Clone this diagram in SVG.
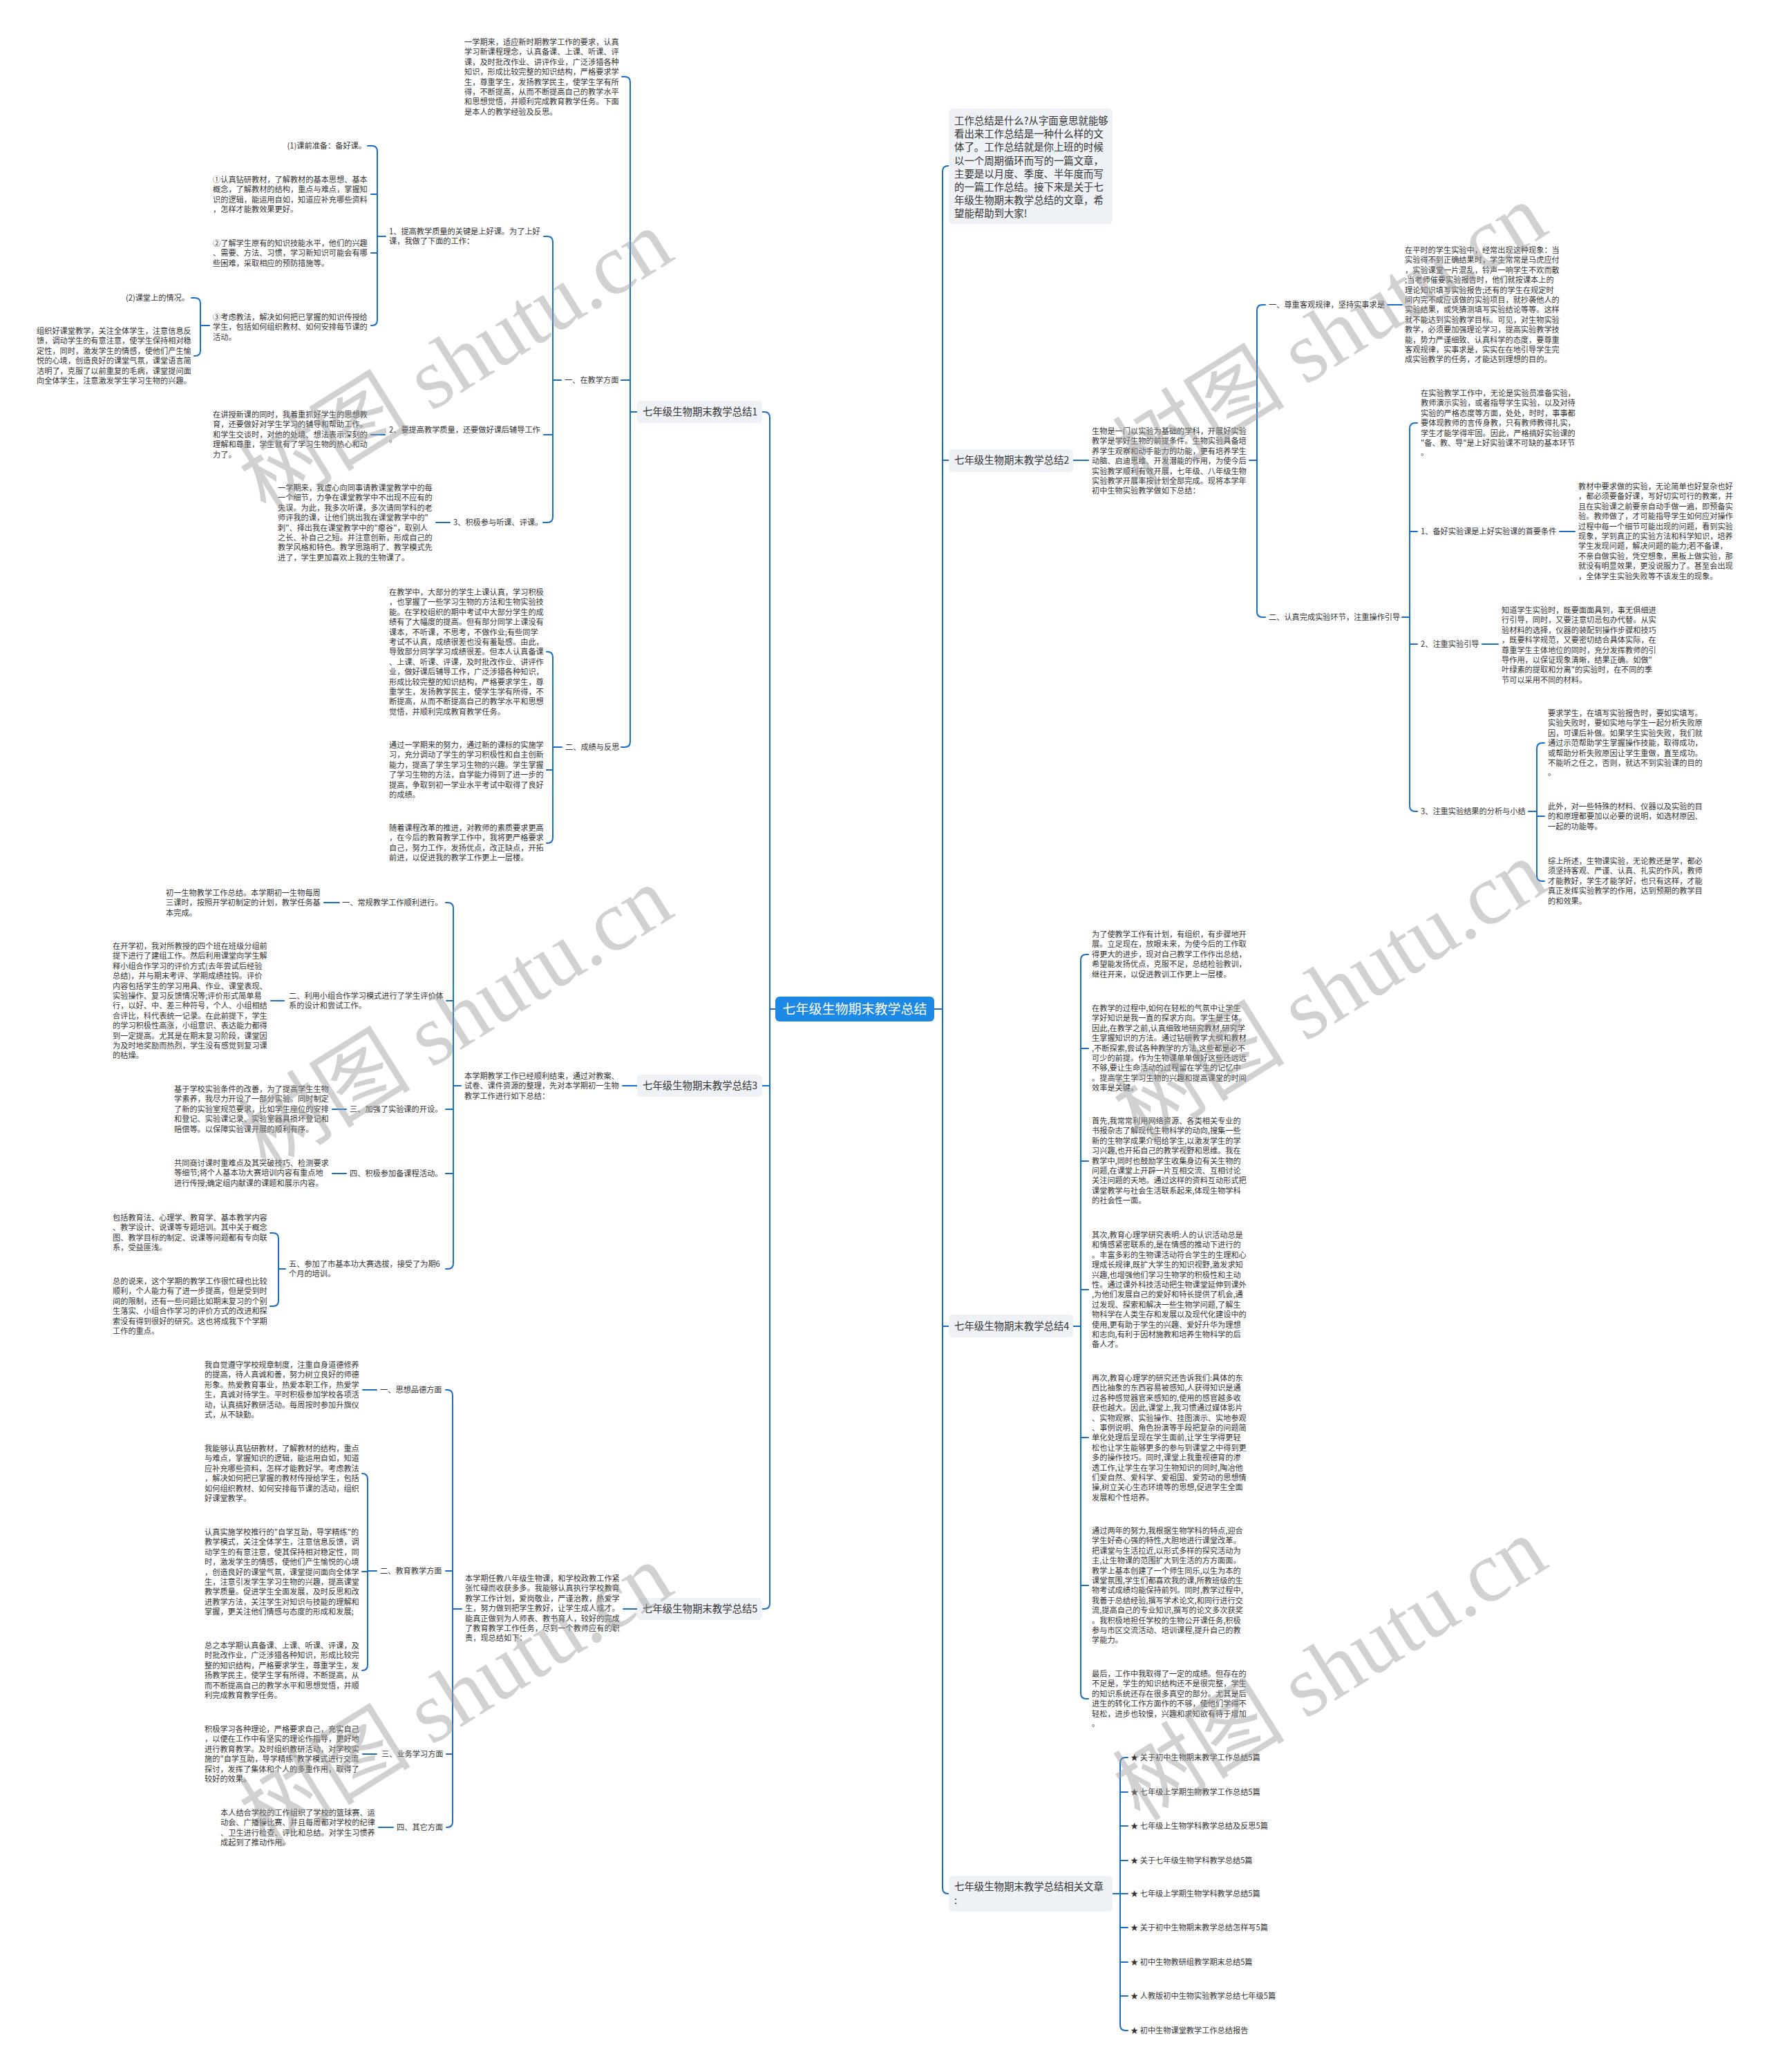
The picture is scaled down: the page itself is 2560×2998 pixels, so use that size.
<svg xmlns="http://www.w3.org/2000/svg" width="2560" height="2998" viewBox="0 0 2560 2998">
<style>
.t{font-family:"Noto Sans CJK SC","Noto Sans",sans-serif;font-size:11.2px;fill:#333}
.n{font-family:"Noto Sans CJK SC","Noto Sans",sans-serif;font-size:14.4px;fill:#333}
.box{fill:#eef1f6}
.c{fill:none;stroke:#1a6dc4;stroke-width:2;stroke-linecap:round;stroke-linejoin:round}
.wm{font-family:"Liberation Serif","Noto Sans CJK SC",serif;font-size:125px;fill:#9a9a9a;fill-opacity:0.45}
</style>
<rect width="2560" height="2998" fill="#ffffff"/>

<g id="connectors">
<path class="c" d="M1103,596 H1106 Q1114,596 1114,604 V2320 Q1114,2328 1106,2328 H1103 M1114,1571 H1103 M1114,1460 H1122"/>
<path class="c" d="M900,111 H904 Q912,111 912,119 V1073 Q912,1081 904,1081 H899 M912,550 H899 M912,596 H922"/>
<path class="c" d="M787,342 H792 Q800,342 800,350 V748 Q800,756 792,756 H786 M800,629 H787 M800,550 H812"/>
<path class="c" d="M532,211 H538 Q546,211 546,219 V463 Q546,471 538,471 H537 M546,281 H537 M546,366 H537 M546,342 H558"/>
<path class="c" d="M277,431 H282 Q290,431 290,439 V507 Q290,515 282,515 H281 M290,471 H303"/>
<path class="c" d="M557,629 H537 M651,756 H631"/>
<path class="c" d="M791,943 H792 Q800,943 800,951 V1212 Q800,1220 792,1220 H791 M800,1114 H791 M800,1081 H813"/>
<path class="c" d="M922,1571 H901"/>
<path class="c" d="M645,1306 H648 Q656,1306 656,1314 V1828 Q656,1836 648,1836 H645 M656,1448 H646 M656,1605 H645 M656,1698 H645 M656,1571 H667"/>
<path class="c" d="M491,1306 H469 M411,1448 H392 M501,1605 H481 M501,1698 H481"/>
<path class="c" d="M391,1784 H395 Q403,1784 403,1792 V1882 Q403,1890 395,1890 H391 M403,1836 H413"/>
<path class="c" d="M922,2328 H902"/>
<path class="c" d="M645,2011 H647 Q655,2011 655,2019 V2636 Q655,2644 647,2644 H646 M655,2273 H645 M655,2538 H646 M655,2328 H668"/>
<path class="c" d="M545,2011 H525 M545,2538 H525 M569,2644 H548"/>
<path class="c" d="M524,2132 Q532,2132 532,2140 V2409 Q532,2417 524,2417 M532,2274 H524 M532,2273 H545"/>
<path class="c" d="M1373,240 H1372 Q1364,240 1364,248 V2732 Q1364,2740 1372,2740 H1373 M1364,666 H1373 M1364,1919 H1373 M1352,1460 H1364"/>
<path class="c" d="M1553,666 H1575"/>
<path class="c" d="M1831,441 H1827 Q1819,441 1819,449 V885 Q1819,893 1827,893 H1831 M1808,666 H1819"/>
<path class="c" d="M2008,441 H2029"/>
<path class="c" d="M2051,612 H2048 Q2040,612 2040,620 V1166 Q2040,1174 2048,1174 H2051 M2040,769 H2051 M2040,932 H2051 M2029,893 H2040"/>
<path class="c" d="M2257,769 H2279 M2145,932 H2168"/>
<path class="c" d="M2235,1075 H2232 Q2224,1075 2224,1083 V1267 Q2224,1275 2232,1275 H2235 M2224,1181 H2235 M2212,1174 H2224"/>
<path class="c" d="M1575,1381 H1572 Q1564,1381 1564,1389 V2450 Q1564,2458 1572,2458 H1575 M1564,1517 H1575 M1564,1680 H1575 M1564,1866 H1575 M1564,2080 H1575 M1564,2294 H1575 M1553,1919 H1564"/>
<path class="c" d="M1632,2543 H1629 Q1621,2543 1621,2551 V2930 Q1621,2938 1629,2938 H1632 M1621,2593 H1632 M1621,2642 H1632 M1621,2692 H1632 M1621,2740 H1632 M1621,2789 H1632 M1621,2839 H1632 M1621,2888 H1632 M1610,2740 H1621"/>
</g>

<g id="n-center">
<rect x="1122" y="1442" width="230" height="36" rx="6" fill="#1e88e5"/>
<text x="1237" y="1466.5" text-anchor="middle" style="font-family:'Noto Sans CJK SC',sans-serif;font-size:19px;fill:#ffffff">七年级生物期末教学总结</text>
</g>

<g id="n-b1"><rect class="box" x="922" y="580" width="181" height="32" rx="5"/><text class="n" x="930" y="601">七年级生物期末教学总结1</text></g>
<g id="b1-intro"><text class="t" x="672" y="65"><tspan x="672">一学期来，适应新时期教学工作的要求，认真</tspan><tspan x="672" dy="14.4">学习新课程理念，认真备课、上课、听课、评</tspan><tspan x="672" dy="14.4">课，及时批改作业、讲评作业，广泛涉猎各种</tspan><tspan x="672" dy="14.4">知识，形成比较完整的知识结构，严格要求学</tspan><tspan x="672" dy="14.4">生，尊重学生，发扬教学民主，使学生学有所</tspan><tspan x="672" dy="14.4">得，不断提高，从而不断提高自己的教学水平</tspan><tspan x="672" dy="14.4">和思想觉悟，并顺利完成教育教学任务。下面</tspan><tspan x="672" dy="14.4">是本人的教学经验及反思。</tspan></text></g>
<g id="b1-1"><text class="t" x="817" y="554">一、在教学方面</text></g>
<g id="b1-1-1"><text class="t" x="563" y="338.5"><tspan x="563">1、提高教学质量的关键是上好课。为了上好</tspan><tspan x="563" dy="14.4">课，我做了下面的工作：</tspan></text></g>
<g id="b1-1-1-a"><text class="t" x="530" y="215" text-anchor="end">(1)课前准备：备好课。</text></g>
<g id="b1-1-1-b"><text class="t" x="308" y="264"><tspan x="308">①认真钻研教材，了解教材的基本思想、基本</tspan><tspan x="308" dy="14.4">概念，了解教材的结构，重点与难点，掌握知</tspan><tspan x="308" dy="14.4">识的逻辑，能运用自如，知道应补充哪些资料</tspan><tspan x="308" dy="14.4">，怎样才能教效果更好。</tspan></text></g>
<g id="b1-1-1-c"><text class="t" x="308" y="356"><tspan x="308">②了解学生原有的知识技能水平，他们的兴趣</tspan><tspan x="308" dy="14.4">、需要、方法、习惯，学习新知识可能会有哪</tspan><tspan x="308" dy="14.4">些困难，采取相应的预防措施等。</tspan></text></g>
<g id="b1-1-1-d"><text class="t" x="308" y="463"><tspan x="308">③考虑教法，解决如何把已掌握的知识传授给</tspan><tspan x="308" dy="14.4">学生，包括如何组织教材、如何安排每节课的</tspan><tspan x="308" dy="14.4">活动。</tspan></text></g>
<g id="b1-1-1-d1"><text class="t" x="274" y="435" text-anchor="end">(2)课堂上的情况。</text></g>
<g id="b1-1-1-d2"><text class="t" x="53" y="483"><tspan x="53">组织好课堂教学，关注全体学生，注意信息反</tspan><tspan x="53" dy="14.4">馈，调动学生的有意注意，使学生保持相对稳</tspan><tspan x="53" dy="14.4">定性，同时，激发学生的情感，使他们产生愉</tspan><tspan x="53" dy="14.4">悦的心境，创造良好的课堂气氛，课堂语言简</tspan><tspan x="53" dy="14.4">洁明了，克服了以前重复的毛病，课堂提问面</tspan><tspan x="53" dy="14.4">向全体学生，注意激发学生学习生物的兴趣。</tspan></text></g>
<g id="b1-1-2"><text class="t" x="563" y="625.6"><tspan x="563">2、要提高教学质量，还要做好课后辅导工作</tspan><tspan x="563" dy="14.4">。</tspan></text></g>
<g id="b1-1-2-a"><text class="t" x="308" y="604"><tspan x="308">在讲授新课的同时，我着重抓好学生的思想教</tspan><tspan x="308" dy="14.4">育，还要做好对学生学习的辅导和帮助工作。</tspan><tspan x="308" dy="14.4">和学生交谈时，对他的处境、想法表示深刻的</tspan><tspan x="308" dy="14.4">理解和尊重，学生就有了学习生物的热心和动</tspan><tspan x="308" dy="14.4">力了。</tspan></text></g>
<g id="b1-1-3"><text class="t" x="656" y="760">3、积极参与听课、评课。</text></g>
<g id="b1-1-3-a"><text class="t" x="402" y="710"><tspan x="402">一学期来，我虚心向同事请教课堂教学中的每</tspan><tspan x="402" dy="14.4">一个细节，力争在课堂教学中不出现不应有的</tspan><tspan x="402" dy="14.4">失误。为此，我多次听课，多次请同学科的老</tspan><tspan x="402" dy="14.4">师评我的课，让他们挑出我在课堂教学中的"</tspan><tspan x="402" dy="14.4">刺"、择出我在课堂教学中的"瘪谷"，取别人</tspan><tspan x="402" dy="14.4">之长、补自己之短。并注意创新，形成自己的</tspan><tspan x="402" dy="14.4">教学风格和特色。教学思路明了、教学模式先</tspan><tspan x="402" dy="14.4">进了，学生更加喜欢上我的生物课了。</tspan></text></g>
<g id="b1-2"><text class="t" x="818" y="1085">二、成绩与反思</text></g>
<g id="b1-2-a"><text class="t" x="563" y="861"><tspan x="563">在教学中，大部分的学生上课认真，学习积极</tspan><tspan x="563" dy="14.4">，也掌握了一些学习生物的方法和生物实验技</tspan><tspan x="563" dy="14.4">能。在学校组织的期中考试中大部分学生的成</tspan><tspan x="563" dy="14.4">绩有了大幅度的提高。但有部分同学上课没有</tspan><tspan x="563" dy="14.4">课本，不听课，不思考，不做作业;有些同学</tspan><tspan x="563" dy="14.4">考试不认真，成绩很差也没有羞耻感。由此，</tspan><tspan x="563" dy="14.4">导致部分同学学习成绩很差。但本人认真备课</tspan><tspan x="563" dy="14.4">、上课、听课、评课，及时批改作业、讲评作</tspan><tspan x="563" dy="14.4">业，做好课后辅导工作，广泛涉猎各种知识，</tspan><tspan x="563" dy="14.4">形成比较完整的知识结构，严格要求学生，尊</tspan><tspan x="563" dy="14.4">重学生，发扬教学民主，使学生学有所得，不</tspan><tspan x="563" dy="14.4">断提高，从而不断提高自己的教学水平和思想</tspan><tspan x="563" dy="14.4">觉悟，并顺利完成教育教学任务。</tspan></text></g>
<g id="b1-2-b"><text class="t" x="563" y="1082"><tspan x="563">通过一学期来的努力，通过新的课标的实施学</tspan><tspan x="563" dy="14.4">习，充分调动了学生的学习积极性和自主创新</tspan><tspan x="563" dy="14.4">能力，提高了学生学习生物的兴趣。学生掌握</tspan><tspan x="563" dy="14.4">了学习生物的方法，自学能力得到了进一步的</tspan><tspan x="563" dy="14.4">提高，争取到初一学业水平考试中取得了良好</tspan><tspan x="563" dy="14.4">的成绩。</tspan></text></g>
<g id="b1-2-c"><text class="t" x="563" y="1202"><tspan x="563">随着课程改革的推进，对教师的素质要求更高</tspan><tspan x="563" dy="14.4">，在今后的教育教学工作中，我将更严格要求</tspan><tspan x="563" dy="14.4">自己，努力工作，发扬优点，改正缺点，开拓</tspan><tspan x="563" dy="14.4">前进，以促进我的教学工作更上一层楼。</tspan></text></g>

<g id="n-b3"><rect class="box" x="922" y="1555" width="181" height="32" rx="5"/><text class="n" x="930" y="1576">七年级生物期末教学总结3</text></g>
<g id="b3-intro"><text class="t" x="672" y="1561"><tspan x="672">本学期教学工作已经顺利结束，通过对教案、</tspan><tspan x="672" dy="14.4">试卷、课件资源的整理，先对本学期初一生物</tspan><tspan x="672" dy="14.4">教学工作进行如下总结：</tspan></text></g>
<g id="b3-1"><text class="t" x="495" y="1310">一、常规教学工作顺利进行。</text></g>
<g id="b3-1-a"><text class="t" x="240" y="1296"><tspan x="240">初一生物教学工作总结。本学期初一生物每周</tspan><tspan x="240" dy="14.4">三课时，按照开学初制定的计划，教学任务基</tspan><tspan x="240" dy="14.4">本完成。</tspan></text></g>
<g id="b3-2"><text class="t" x="418" y="1445"><tspan x="418">二、利用小组合作学习模式进行了学生评价体</tspan><tspan x="418" dy="14.4">系的设计和尝试工作。</tspan></text></g>
<g id="b3-2-a"><text class="t" x="163" y="1373"><tspan x="163">在开学初，我对所教授的四个班在班级分组前</tspan><tspan x="163" dy="14.4">提下进行了建组工作。然后利用课堂向学生解</tspan><tspan x="163" dy="14.4">释小组合作学习的评价方式(去年尝试后经验</tspan><tspan x="163" dy="14.4">总结)，并与期末考评、学期成绩挂钩。评价</tspan><tspan x="163" dy="14.4">内容包括学生的学习用具、作业、课堂表现、</tspan><tspan x="163" dy="14.4">实验操作、复习反馈情况等;评价形式简单易</tspan><tspan x="163" dy="14.4">行，以好、中、差三种符号，个人、小组相结</tspan><tspan x="163" dy="14.4">合评比，科代表统一记录。在此前提下，学生</tspan><tspan x="163" dy="14.4">的学习积极性高涨，小组意识、表达能力都得</tspan><tspan x="163" dy="14.4">到一定提高。尤其是在期末复习阶段，课堂因</tspan><tspan x="163" dy="14.4">为及时地奖励而热烈，学生没有感觉到复习课</tspan><tspan x="163" dy="14.4">的枯燥。</tspan></text></g>
<g id="b3-3"><text class="t" x="506" y="1609">三、加强了实验课的开设。</text></g>
<g id="b3-3-a"><text class="t" x="252" y="1580"><tspan x="252">基于学校实验条件的改善，为了提高学生生物</tspan><tspan x="252" dy="14.4">学素养，我尽力开设了一部分实验。同时制定</tspan><tspan x="252" dy="14.4">了新的实验室规范要求，比如学生座位的安排</tspan><tspan x="252" dy="14.4">和登记、实验课记录、实验室器具损坏登记和</tspan><tspan x="252" dy="14.4">赔偿等。以保障实验课开展的顺利有序。</tspan></text></g>
<g id="b3-4"><text class="t" x="506" y="1702">四、积极参加备课程活动。</text></g>
<g id="b3-4-a"><text class="t" x="252" y="1687"><tspan x="252">共同商讨课时重难点及其突破技巧、检测要求</tspan><tspan x="252" dy="14.4">等细节;将个人基本功大赛培训内容有重点地</tspan><tspan x="252" dy="14.4">进行传授;确定组内献课的课题和展示内容。</tspan></text></g>
<g id="b3-5"><text class="t" x="418" y="1833"><tspan x="418">五、参加了市基本功大赛选拔，接受了为期6</tspan><tspan x="418" dy="14.4">个月的培训。</tspan></text></g>
<g id="b3-5-a"><text class="t" x="163" y="1766"><tspan x="163">包括教育法、心理学、教育学、基本教学内容</tspan><tspan x="163" dy="14.4">、教学设计、说课等专题培训。其中关于概念</tspan><tspan x="163" dy="14.4">图、教学目标的制定、说课等问题都有专向联</tspan><tspan x="163" dy="14.4">系，受益匪浅。</tspan></text></g>
<g id="b3-5-b"><text class="t" x="163" y="1858"><tspan x="163">总的说来，这个学期的教学工作很忙碌也比较</tspan><tspan x="163" dy="14.4">顺利，个人能力有了进一步提高，但是受到时</tspan><tspan x="163" dy="14.4">间的限制，还有一些问题比如期末复习的个别</tspan><tspan x="163" dy="14.4">生落实、小组合作学习的评价方式的改进和探</tspan><tspan x="163" dy="14.4">索没有得到很好的研究。这也将成我下个学期</tspan><tspan x="163" dy="14.4">工作的重点。</tspan></text></g>

<g id="n-b5"><rect class="box" x="922" y="2312" width="181" height="32" rx="5"/><text class="n" x="930" y="2333">七年级生物期末教学总结5</text></g>
<g id="b5-intro"><text class="t" x="673" y="2288"><tspan x="673">本学期任教八年级生物课，和学校政教工作紧</tspan><tspan x="673" dy="14.4">张忙碌而收获多多。我能够认真执行学校教育</tspan><tspan x="673" dy="14.4">教学工作计划，爱岗敬业，严谨治教，热爱学</tspan><tspan x="673" dy="14.4">生，努力做到把学生教好，让学生成人成才。</tspan><tspan x="673" dy="14.4">能真正做到为人师表、教书育人，较好的完成</tspan><tspan x="673" dy="14.4">了教育教学工作任务，尽到一个教师应有的职</tspan><tspan x="673" dy="14.4">责，现总结如下：</tspan></text></g>
<g id="b5-1"><text class="t" x="550" y="2015">一、思想品德方面</text></g>
<g id="b5-1-a"><text class="t" x="296" y="1979"><tspan x="296">我自觉遵守学校规章制度，注重自身道德修养</tspan><tspan x="296" dy="14.4">的提高，待人真诚和善，努力树立良好的师德</tspan><tspan x="296" dy="14.4">形象。热爱教育事业，热爱本职工作，热爱学</tspan><tspan x="296" dy="14.4">生，真诚对待学生。平时积极参加学校各项活</tspan><tspan x="296" dy="14.4">动，认真搞好教研活动。每周按时参加升旗仪</tspan><tspan x="296" dy="14.4">式，从不缺勤。</tspan></text></g>
<g id="b5-2"><text class="t" x="550" y="2277">二、教育教学方面</text></g>
<g id="b5-2-a"><text class="t" x="296" y="2100"><tspan x="296">我能够认真钻研教材，了解教材的结构，重点</tspan><tspan x="296" dy="14.4">与难点，掌握知识的逻辑，能运用自如，知道</tspan><tspan x="296" dy="14.4">应补充哪些资料，怎样才能教好学。考虑教法</tspan><tspan x="296" dy="14.4">，解决如何把已掌握的教材传授给学生，包括</tspan><tspan x="296" dy="14.4">如何组织教材、如何安排每节课的活动，组织</tspan><tspan x="296" dy="14.4">好课堂教学。</tspan></text></g>
<g id="b5-2-b"><text class="t" x="296" y="2221"><tspan x="296">认真实施学校推行的"自学互助，导学精练"的</tspan><tspan x="296" dy="14.4">教学模式，关注全体学生，注意信息反馈，调</tspan><tspan x="296" dy="14.4">动学生的有意注意，使其保持相对稳定性，同</tspan><tspan x="296" dy="14.4">时，激发学生的情感，使他们产生愉悦的心境</tspan><tspan x="296" dy="14.4">，创造良好的课堂气氛，课堂提问面向全体学</tspan><tspan x="296" dy="14.4">生，注意引发学生学习生物的兴趣，提高课堂</tspan><tspan x="296" dy="14.4">教学质量。促进学生全面发展，及时反思和改</tspan><tspan x="296" dy="14.4">进教学方法，关注学生对知识与技能的理解和</tspan><tspan x="296" dy="14.4">掌握，更关注他们情感与态度的形成和发展;</tspan></text></g>
<g id="b5-2-c"><text class="t" x="296" y="2385"><tspan x="296">总之本学期认真备课、上课、听课、评课，及</tspan><tspan x="296" dy="14.4">时批改作业，广泛涉猎各种知识，形成比较完</tspan><tspan x="296" dy="14.4">整的知识结构，严格要求学生，尊重学生，发</tspan><tspan x="296" dy="14.4">扬教学民主，使学生学有所得，不断提高，从</tspan><tspan x="296" dy="14.4">而不断提高自己的教学水平和思想觉悟，并顺</tspan><tspan x="296" dy="14.4">利完成教育教学任务。</tspan></text></g>
<g id="b5-3"><text class="t" x="552" y="2542">三、业务学习方面</text></g>
<g id="b5-3-a"><text class="t" x="296" y="2506"><tspan x="296">积极学习各种理论，严格要求自己，充实自己</tspan><tspan x="296" dy="14.4">，以便在工作中有坚实的理论作指导，更好地</tspan><tspan x="296" dy="14.4">进行教育教学。及时组织教研活动，对学校实</tspan><tspan x="296" dy="14.4">施的"自学互助，导学精练"教学模式进行交流</tspan><tspan x="296" dy="14.4">探讨，发挥了集体和个人的多重作用，取得了</tspan><tspan x="296" dy="14.4">较好的效果。</tspan></text></g>
<g id="b5-4"><text class="t" x="574" y="2648">四、其它方面</text></g>
<g id="b5-4-a"><text class="t" x="319" y="2627"><tspan x="319">本人结合学校的工作组织了学校的篮球赛、运</tspan><tspan x="319" dy="14.4">动会、广播操比赛、并且每周都对学校的纪律</tspan><tspan x="319" dy="14.4">、卫生进行检查、评比和总结。对学生习惯养</tspan><tspan x="319" dy="14.4">成起到了推动作用。</tspan></text></g>

<g id="n-intro"><rect class="box" x="1373" y="157" width="237" height="167" rx="6"/><text class="n" x="1381" y="180"><tspan x="1381">工作总结是什么?从字面意思就能够</tspan><tspan x="1381" dy="19.2">看出来工作总结是一种什么样的文</tspan><tspan x="1381" dy="19.2">体了。工作总结就是你上班的时候</tspan><tspan x="1381" dy="19.2">以一个周期循环而写的一篇文章，</tspan><tspan x="1381" dy="19.2">主要是以月度、季度、半年度而写</tspan><tspan x="1381" dy="19.2">的一篇工作总结。接下来是关于七</tspan><tspan x="1381" dy="19.2">年级生物期末教学总结的文章，希</tspan><tspan x="1381" dy="19.2">望能帮助到大家!</tspan></text></g>

<g id="n-b2"><rect class="box" x="1373" y="650" width="180" height="33" rx="5"/><text class="n" x="1381" y="671">七年级生物期末教学总结2</text></g>
<g id="b2-intro"><text class="t" x="1580" y="628"><tspan x="1580">生物是一门以实验为基础的学科，开展好实验</tspan><tspan x="1580" dy="14.4">教学是学好生物的前提条件。生物实验具备培</tspan><tspan x="1580" dy="14.4">养学生观察和动手能力的功能，更有培养学生</tspan><tspan x="1580" dy="14.4">动脑、启迪思维、开发潜能的作用，为使今后</tspan><tspan x="1580" dy="14.4">实验教学顺利有效开展，七年级、八年级生物</tspan><tspan x="1580" dy="14.4">实验教学开展率按计划全部完成。现将本学年</tspan><tspan x="1580" dy="14.4">初中生物实验教学做如下总结：</tspan></text></g>
<g id="b2-1"><text class="t" x="1836" y="445">一、尊重客观规律，坚持实事求是</text></g>
<g id="b2-1-a"><text class="t" x="2033" y="366"><tspan x="2033">在平时的学生实验中，经常出现这种现象：当</tspan><tspan x="2033" dy="14.4">实验得不到正确结果时，学生常常是马虎应付</tspan><tspan x="2033" dy="14.4">，实验课堂一片混乱，铃声一响学生不欢而散</tspan><tspan x="2033" dy="14.4">;当老师催要实验报告时，他们就按课本上的</tspan><tspan x="2033" dy="14.4">理论知识填写实验报告;还有的学生在规定时</tspan><tspan x="2033" dy="14.4">间内完不成应该做的实验项目，就抄袭他人的</tspan><tspan x="2033" dy="14.4">实验结果，或凭猜测填写实验结论等等。这样</tspan><tspan x="2033" dy="14.4">就不能达到实验教学目标。可见，对生物实验</tspan><tspan x="2033" dy="14.4">教学，必须要加强理论学习，提高实验教学技</tspan><tspan x="2033" dy="14.4">能，势力严谨细致、认真科学的态度，要尊重</tspan><tspan x="2033" dy="14.4">客观规律，实事求是，实实在在地引导学生完</tspan><tspan x="2033" dy="14.4">成实验教学的任务，才能达到理想的目的。</tspan></text></g>
<g id="b2-2"><text class="t" x="1836" y="897">二、认真完成实验环节，注重操作引导</text></g>
<g id="b2-2-a"><text class="t" x="2056" y="573"><tspan x="2056">在实验教学工作中，无论是实验员准备实验，</tspan><tspan x="2056" dy="14.4">教师演示实验，或者指导学生实验，以及对待</tspan><tspan x="2056" dy="14.4">实验的严格态度等方面，处处，时时，事事都</tspan><tspan x="2056" dy="14.4">要体现教师的言传身教，只有教师教得扎实，</tspan><tspan x="2056" dy="14.4">学生才能学得牢固。因此，严格搞好实验课的</tspan><tspan x="2056" dy="14.4">"备、教、导"是上好实验课不可缺的基本环节</tspan><tspan x="2056" dy="14.4">。</tspan></text></g>
<g id="b2-2-1"><text class="t" x="2056" y="773">1、备好实验课是上好实验课的首要条件</text></g>
<g id="b2-2-1-a"><text class="t" x="2284" y="708"><tspan x="2284">教材中要求做的实验，无论简单也好复杂也好</tspan><tspan x="2284" dy="14.4">，都必须要备好课，写好切实可行的教案，并</tspan><tspan x="2284" dy="14.4">且在实验课之前要亲自动手做一遍，即预备实</tspan><tspan x="2284" dy="14.4">验。教师做了，才可能指导学生如何应对操作</tspan><tspan x="2284" dy="14.4">过程中每一个细节可能出现的问题，看到实验</tspan><tspan x="2284" dy="14.4">现象，学到真正的实验方法和科学知识，培养</tspan><tspan x="2284" dy="14.4">学生发现问题，解决问题的能力;若不备课，</tspan><tspan x="2284" dy="14.4">不亲自做实验，凭空想象，黑板上做实验，那</tspan><tspan x="2284" dy="14.4">就没有明显效果，更没说服力了。甚至会出现</tspan><tspan x="2284" dy="14.4">，全体学生实验失败等不该发生的现象。</tspan></text></g>
<g id="b2-2-2"><text class="t" x="2056" y="936">2、注重实验引导</text></g>
<g id="b2-2-2-a"><text class="t" x="2173" y="887"><tspan x="2173">知道学生实验时，既要面面具到，事无俱细进</tspan><tspan x="2173" dy="14.4">行引导，同时，又要注意切忌包办代替。从实</tspan><tspan x="2173" dy="14.4">验材料的选择，仪器的装配到操作步骤和技巧</tspan><tspan x="2173" dy="14.4">，既要科学规范，又要密切结合具体实际，在</tspan><tspan x="2173" dy="14.4">尊重学生主体地位的同时，充分发挥教师的引</tspan><tspan x="2173" dy="14.4">导作用，以保证现象清晰，结果正确。如做"</tspan><tspan x="2173" dy="14.4">叶绿素的提取和分离"的实验时，在不同的季</tspan><tspan x="2173" dy="14.4">节可以采用不同的材料。</tspan></text></g>
<g id="b2-2-3"><text class="t" x="2056" y="1178">3、注重实验结果的分析与小结</text></g>
<g id="b2-2-3-a"><text class="t" x="2240" y="1036"><tspan x="2240">要求学生，在填写实验报告时，要如实填写。</tspan><tspan x="2240" dy="14.4">实验失败时，要如实地与学生一起分析失败原</tspan><tspan x="2240" dy="14.4">因，可课后补做。如果学生实验失败，我们就</tspan><tspan x="2240" dy="14.4">通过示范帮助学生掌握操作技能，取得成功，</tspan><tspan x="2240" dy="14.4">或帮助分析失败原因让学生重做，直至成功。</tspan><tspan x="2240" dy="14.4">不能听之任之，否则，就达不到实验课的目的</tspan><tspan x="2240" dy="14.4">。</tspan></text></g>
<g id="b2-2-3-b"><text class="t" x="2240" y="1171"><tspan x="2240">此外，对一些特殊的材料、仪器以及实验的目</tspan><tspan x="2240" dy="14.4">的和原理都要加以必要的说明，如选材原因、</tspan><tspan x="2240" dy="14.4">一起的功能等。</tspan></text></g>
<g id="b2-2-3-c"><text class="t" x="2240" y="1250"><tspan x="2240">综上所述，生物课实验，无论教还是学，都必</tspan><tspan x="2240" dy="14.4">须坚持客观、严谨、认真、扎实的作风，教师</tspan><tspan x="2240" dy="14.4">才能教好，学生才能学好，也只有这样，才能</tspan><tspan x="2240" dy="14.4">真正发挥实验教学的作用，达到预期的教学目</tspan><tspan x="2240" dy="14.4">的和效果。</tspan></text></g>

<g id="n-b4"><rect class="box" x="1373" y="1902" width="180" height="33" rx="5"/><text class="n" x="1381" y="1924">七年级生物期末教学总结4</text></g>
<g id="b4-a"><text class="t" x="1580" y="1356"><tspan x="1580">为了使教学工作有计划，有组织，有步骤地开</tspan><tspan x="1580" dy="14.4">展。立足现在，放眼未来，为使今后的工作取</tspan><tspan x="1580" dy="14.4">得更大的进步，现对自己教学工作作出总结，</tspan><tspan x="1580" dy="14.4">希望能发扬优点，克服不足，总结检验教训，</tspan><tspan x="1580" dy="14.4">继往开来，以促进教训工作更上一层楼。</tspan></text></g>
<g id="b4-b"><text class="t" x="1580" y="1463"><tspan x="1580">在教学的过程中,如何在轻松的气氛中让学生</tspan><tspan x="1580" dy="14.4">学好知识是我一直的探求方向。学生是主体。</tspan><tspan x="1580" dy="14.4">因此,在教学之前,认真细致地研究教材,研究学</tspan><tspan x="1580" dy="14.4">生掌握知识的方法。通过钻研教学大纲和教材</tspan><tspan x="1580" dy="14.4">,不断探索,尝试各种教学的方法,这些都是必不</tspan><tspan x="1580" dy="14.4">可少的前提。作为生物课单单做好这些还远远</tspan><tspan x="1580" dy="14.4">不够,要让生命活动的过程留在学生的记忆中</tspan><tspan x="1580" dy="14.4">。提高学生学习生物的兴趣和提高课堂的时间</tspan><tspan x="1580" dy="14.4">效率是关键。</tspan></text></g>
<g id="b4-c"><text class="t" x="1580" y="1626"><tspan x="1580">首先,我常常利用网络资源、各类相关专业的</tspan><tspan x="1580" dy="14.4">书报杂志了解现代生物科学的动向,搜集一些</tspan><tspan x="1580" dy="14.4">新的生物学成果介绍给学生,以激发学生的学</tspan><tspan x="1580" dy="14.4">习兴趣,也开拓自己的教学视野和思维。我在</tspan><tspan x="1580" dy="14.4">教学中,同时也鼓励学生收集身边有关生物的</tspan><tspan x="1580" dy="14.4">问题,在课堂上开辟一片互相交流、互相讨论</tspan><tspan x="1580" dy="14.4">关注问题的天地。通过这样的资料互动形式把</tspan><tspan x="1580" dy="14.4">课堂教学与社会生活联系起来,体现生物学科</tspan><tspan x="1580" dy="14.4">的社会性一面。</tspan></text></g>
<g id="b4-d"><text class="t" x="1580" y="1791"><tspan x="1580">其次,教育心理学研究表明:人的认识活动总是</tspan><tspan x="1580" dy="14.4">和情感紧密联系的,是在情感的推动下进行的</tspan><tspan x="1580" dy="14.4">。丰富多彩的生物课活动符合学生的生理和心</tspan><tspan x="1580" dy="14.4">理成长规律,既扩大学生的知识视野,激发求知</tspan><tspan x="1580" dy="14.4">兴趣,也增强他们学习生物学的积极性和主动</tspan><tspan x="1580" dy="14.4">性。通过课外科技活动把生物课堂延伸到课外</tspan><tspan x="1580" dy="14.4">,为他们发展自己的爱好和特长提供了机会,通</tspan><tspan x="1580" dy="14.4">过发现、探索和解决一些生物学问题,了解生</tspan><tspan x="1580" dy="14.4">物科学在人类生存和发展以及现代化建设中的</tspan><tspan x="1580" dy="14.4">使用,更有助于学生的兴趣、爱好升华为理想</tspan><tspan x="1580" dy="14.4">和志向,有利于因材施教和培养生物科学的后</tspan><tspan x="1580" dy="14.4">备人才。</tspan></text></g>
<g id="b4-e"><text class="t" x="1580" y="1998"><tspan x="1580">再次,教育心理学的研究还告诉我们:具体的东</tspan><tspan x="1580" dy="14.4">西比抽象的东西容易被感知,人获得知识是通</tspan><tspan x="1580" dy="14.4">过各种感觉器官来感知的,使用的感官越多收</tspan><tspan x="1580" dy="14.4">获也越大。因此,课堂上,我习惯通过媒体影片</tspan><tspan x="1580" dy="14.4">、实物观察、实验操作、挂图演示、实地参观</tspan><tspan x="1580" dy="14.4">、事例说明、角色扮演等手段把复杂的问题简</tspan><tspan x="1580" dy="14.4">单化处理后呈现在学生面前,让学生学得更轻</tspan><tspan x="1580" dy="14.4">松也让学生能够更多的参与到课堂之中得到更</tspan><tspan x="1580" dy="14.4">多的操作技巧。同时,课堂上我重视德育的渗</tspan><tspan x="1580" dy="14.4">透工作,让学生在学习生物知识的同时,陶冶他</tspan><tspan x="1580" dy="14.4">们爱自然、爱科学、爱祖国、爱劳动的思想情</tspan><tspan x="1580" dy="14.4">操,树立关心生态环境等的思想,促进学生全面</tspan><tspan x="1580" dy="14.4">发展和个性培养。</tspan></text></g>
<g id="b4-f"><text class="t" x="1580" y="2219"><tspan x="1580">通过两年的努力,我根据生物学科的特点,迎合</tspan><tspan x="1580" dy="14.4">学生好奇心强的特性,大胆地进行课堂改革。</tspan><tspan x="1580" dy="14.4">把课堂与生活拉近,以形式多样的探究活动为</tspan><tspan x="1580" dy="14.4">主,让生物课的范围扩大到生活的方方面面。</tspan><tspan x="1580" dy="14.4">教学上基本创建了一个师生同乐,以生为本的</tspan><tspan x="1580" dy="14.4">课堂氛围,学生们都喜欢我的课,所教班级的生</tspan><tspan x="1580" dy="14.4">物考试成绩均能保持前列。同时,教学过程中,</tspan><tspan x="1580" dy="14.4">我善于总结经验,撰写学术论文,和同行进行交</tspan><tspan x="1580" dy="14.4">流,提高自己的专业知识,撰写的论文多次获奖</tspan><tspan x="1580" dy="14.4">。我积极地担任学校的生物公开课任务,积极</tspan><tspan x="1580" dy="14.4">参与市区交流活动、培训课程,提升自己的教</tspan><tspan x="1580" dy="14.4">学能力。</tspan></text></g>
<g id="b4-g"><text class="t" x="1580" y="2426"><tspan x="1580">最后，工作中我取得了一定的成绩。但存在的</tspan><tspan x="1580" dy="14.4">不足是，学生的知识结构还不是很完整，学生</tspan><tspan x="1580" dy="14.4">的知识系统还存在很多真空的部分。尤其是后</tspan><tspan x="1580" dy="14.4">进生的转化工作方面作的不够，使他们学得不</tspan><tspan x="1580" dy="14.4">轻松，进步也较慢，兴趣和求知欲有待于增加</tspan><tspan x="1580" dy="14.4">。</tspan></text></g>

<g id="n-rel"><rect class="box" x="1373" y="2714" width="237" height="52" rx="6"/><text class="n" x="1381" y="2735"><tspan x="1381">七年级生物期末教学总结相关文章</tspan><tspan x="1381" dy="20">:</tspan></text></g>
<g id="rel-items">
<text class="t" x="1636" y="2547">★ 关于初中生物期末教学工作总结5篇</text>
<text class="t" x="1636" y="2597">★ 七年级上学期生物教学工作总结5篇</text>
<text class="t" x="1636" y="2646">★ 七年级上生物学科教学总结及反思5篇</text>
<text class="t" x="1636" y="2696">★ 关于七年级生物学科教学总结5篇</text>
<text class="t" x="1636" y="2744">★ 七年级上学期生物学科教学总结5篇</text>
<text class="t" x="1636" y="2793">★ 关于初中生物期末教学总结怎样写5篇</text>
<text class="t" x="1636" y="2843">★ 初中生物教研组教学期末总结5篇</text>
<text class="t" x="1636" y="2892">★ 人教版初中生物实验教学总结七年级5篇</text>
<text class="t" x="1636" y="2942">★ 初中生物课堂教学工作总结报告</text>
</g>

<g id="watermarks">
<text class="wm" transform="translate(385,745) rotate(-32)">树图 shutu.cn</text>
<text class="wm" transform="translate(385,1695) rotate(-32)">树图 shutu.cn</text>
<text class="wm" transform="translate(385,2675) rotate(-32)">树图 shutu.cn</text>
<text class="wm" transform="translate(1650,707) rotate(-32)">树图 shutu.cn</text>
<text class="wm" transform="translate(1650,1657) rotate(-32)">树图 shutu.cn</text>
<text class="wm" transform="translate(1650,2637) rotate(-32)">树图 shutu.cn</text>
</g>
</svg>
